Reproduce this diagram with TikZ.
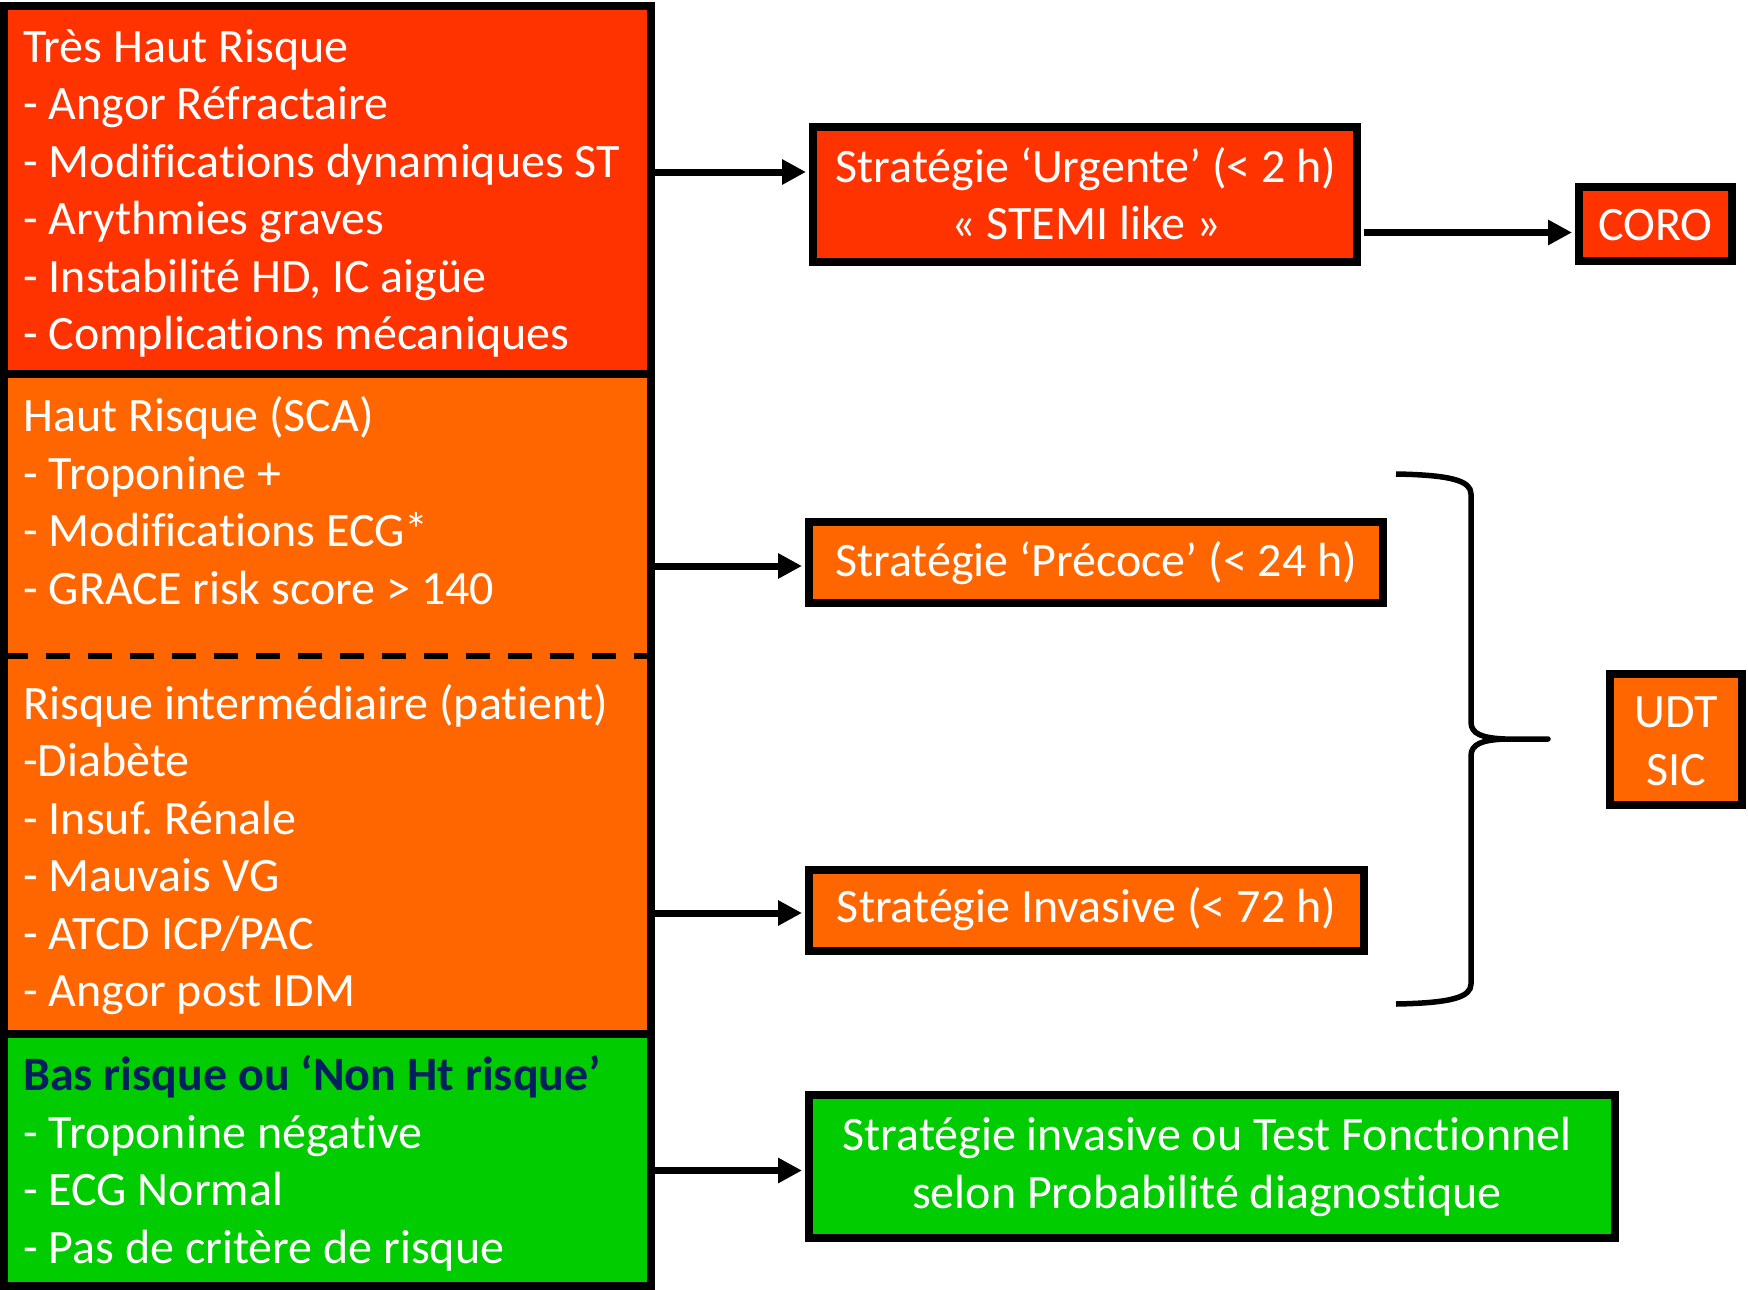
\documentclass[tikz,border=0pt]{standalone}
\usepackage{fontspec}
\setmainfont{Carlito}[Ligatures=NoCommon]
\usetikzlibrary{arrows.meta}
\definecolor{cRed}{RGB}{255,51,0}
\definecolor{cOrange}{RGB}{255,102,0}
\definecolor{cGreen}{RGB}{0,204,0}
\definecolor{cNavy}{RGB}{0,32,96}
\frenchspacing
\begin{document}
\begin{tikzpicture}[x=1pt,y=-1pt,
  sec/.style={rectangle, draw=black, line width=7.5pt, inner sep=0pt, outer sep=0pt},
  rbox/.style={rectangle, draw=black, line width=8pt, inner sep=0pt},
  txt/.style={text=white, font=\fontsize{48}{57.5}\selectfont, inner sep=0pt, align=left, anchor=base west},
  ctxt/.style={text=white, font=\fontsize{48}{57.5}\selectfont, inner sep=0pt, align=center, anchor=base},
  arr/.style={line width=7pt, -{Triangle[length=24pt,width=24pt]}, shorten >=3pt},
  bracestyle/.style={line width=5.5pt, line join=round},
]
\useasboundingbox (0,0) rectangle (1748,1290);

% left column sections
\node[sec, fill=cRed, minimum width=647pt, minimum height=368pt] (vhr) at (327.5,190) {};
\node[sec, fill=cOrange, minimum width=647pt, minimum height=660pt] (hr) at (327.5,704) {};
\node[sec, fill=cGreen, minimum width=647pt, minimum height=252pt] (low) at (327.5,1160) {};
\coordinate (split) at (4,656);
\draw[line width=6pt, dash pattern=on 24pt off 18pt] (split) -- (split -| hr.east);

% anchor base = baseline of the last line
\node[txt] (tvhr) at (23,349.5) {Très Haut Risque\\- Angor Réfractaire\\- Modifications dynamiques ST\\- Arythmies graves\\- Instabilité HD, IC aigüe\\- Complications mécaniques};
\node[txt] (thr) at (23,604) {Haut Risque (SCA)\\- Troponine +\\- Modifications ECG*\\- GRACE risk score > 140};
\node[txt] (tint) at (23,1006.5) {Risque intermédiaire (patient)\\-Diabète\\- Insuf. Rénale\\- Mauvais VG\\- ATCD ICP/PAC\\- Angor post IDM};
\node[txt] (tlow) at (23,1263) {\textcolor{cNavy}{\bfseries Bas risque ou ‘Non Ht risque’}\\- Troponine négative\\- ECG Normal\\- Pas de critère de risque};

% right boxes
\node[rbox, fill=cRed, minimum width=544pt, minimum height=135pt] (urg) at (1085,194.5) {};
\node[ctxt] (turg) at (1086,239.5) {Stratégie ‘Urgente’ (< 2 h)\\« STEMI like »};
\node[rbox, fill=cRed, minimum width=153pt, minimum height=74pt] (coro) at (1655.5,224) {};
\node[ctxt] (tcoro) at (1655.5,240) {CORO};
\node[rbox, fill=cOrange, minimum width=574pt, minimum height=81pt] (pre) at (1096,562.5) {};
\node[ctxt] (tpre) at (1096,576.5) {Stratégie ‘Précoce’ (< 24 h)};
\node[rbox, fill=cOrange, minimum width=555pt, minimum height=81pt] (inv) at (1086.5,910.5) {};
\node[ctxt] (tinv) at (1086.5,922.5) {Stratégie Invasive (< 72 h)};
\node[rbox, fill=cGreen, minimum width=806pt, minimum height=143pt] (gbox) at (1212,1166.5) {};
\node[ctxt] (tgbox) at (1207,1208) {Stratégie invasive ou Test Fonctionnel\\selon Probabilité diagnostique};
\node[rbox, fill=cOrange, minimum width=132pt, minimum height=131pt] (udt) at (1676,739.5) {};
\node[ctxt] (tudt) at (1676,785) {UDT\\SIC};

% arrows
\draw[arr] (vhr.east |- 0,172) -- (urg.west |- 0,172);
\draw[arr, shorten <=3pt] (urg.east |- 0,232.5) -- (coro.west |- 0,232.5);
\draw[arr] (hr.east |- 0,566) -- (pre.west |- 0,566);
\draw[arr] (hr.east |- 0,913) -- (inv.west |- 0,913);
\draw[arr] (low.east |- 0,1170.5) -- (gbox.west |- 0,1170.5);

% brace
\draw[bracestyle] (1396,474) .. controls (1452,475) and (1471,481) .. (1471,494) -- (1471,722)
  .. controls (1471,734) and (1482,738) .. (1505,739) -- (1548,739)
  -- (1505,739) .. controls (1482,740) and (1471,744) .. (1471,756) -- (1471,984)
  .. controls (1471,997) and (1452,1003) .. (1396,1004);
\end{tikzpicture}
\end{document}
